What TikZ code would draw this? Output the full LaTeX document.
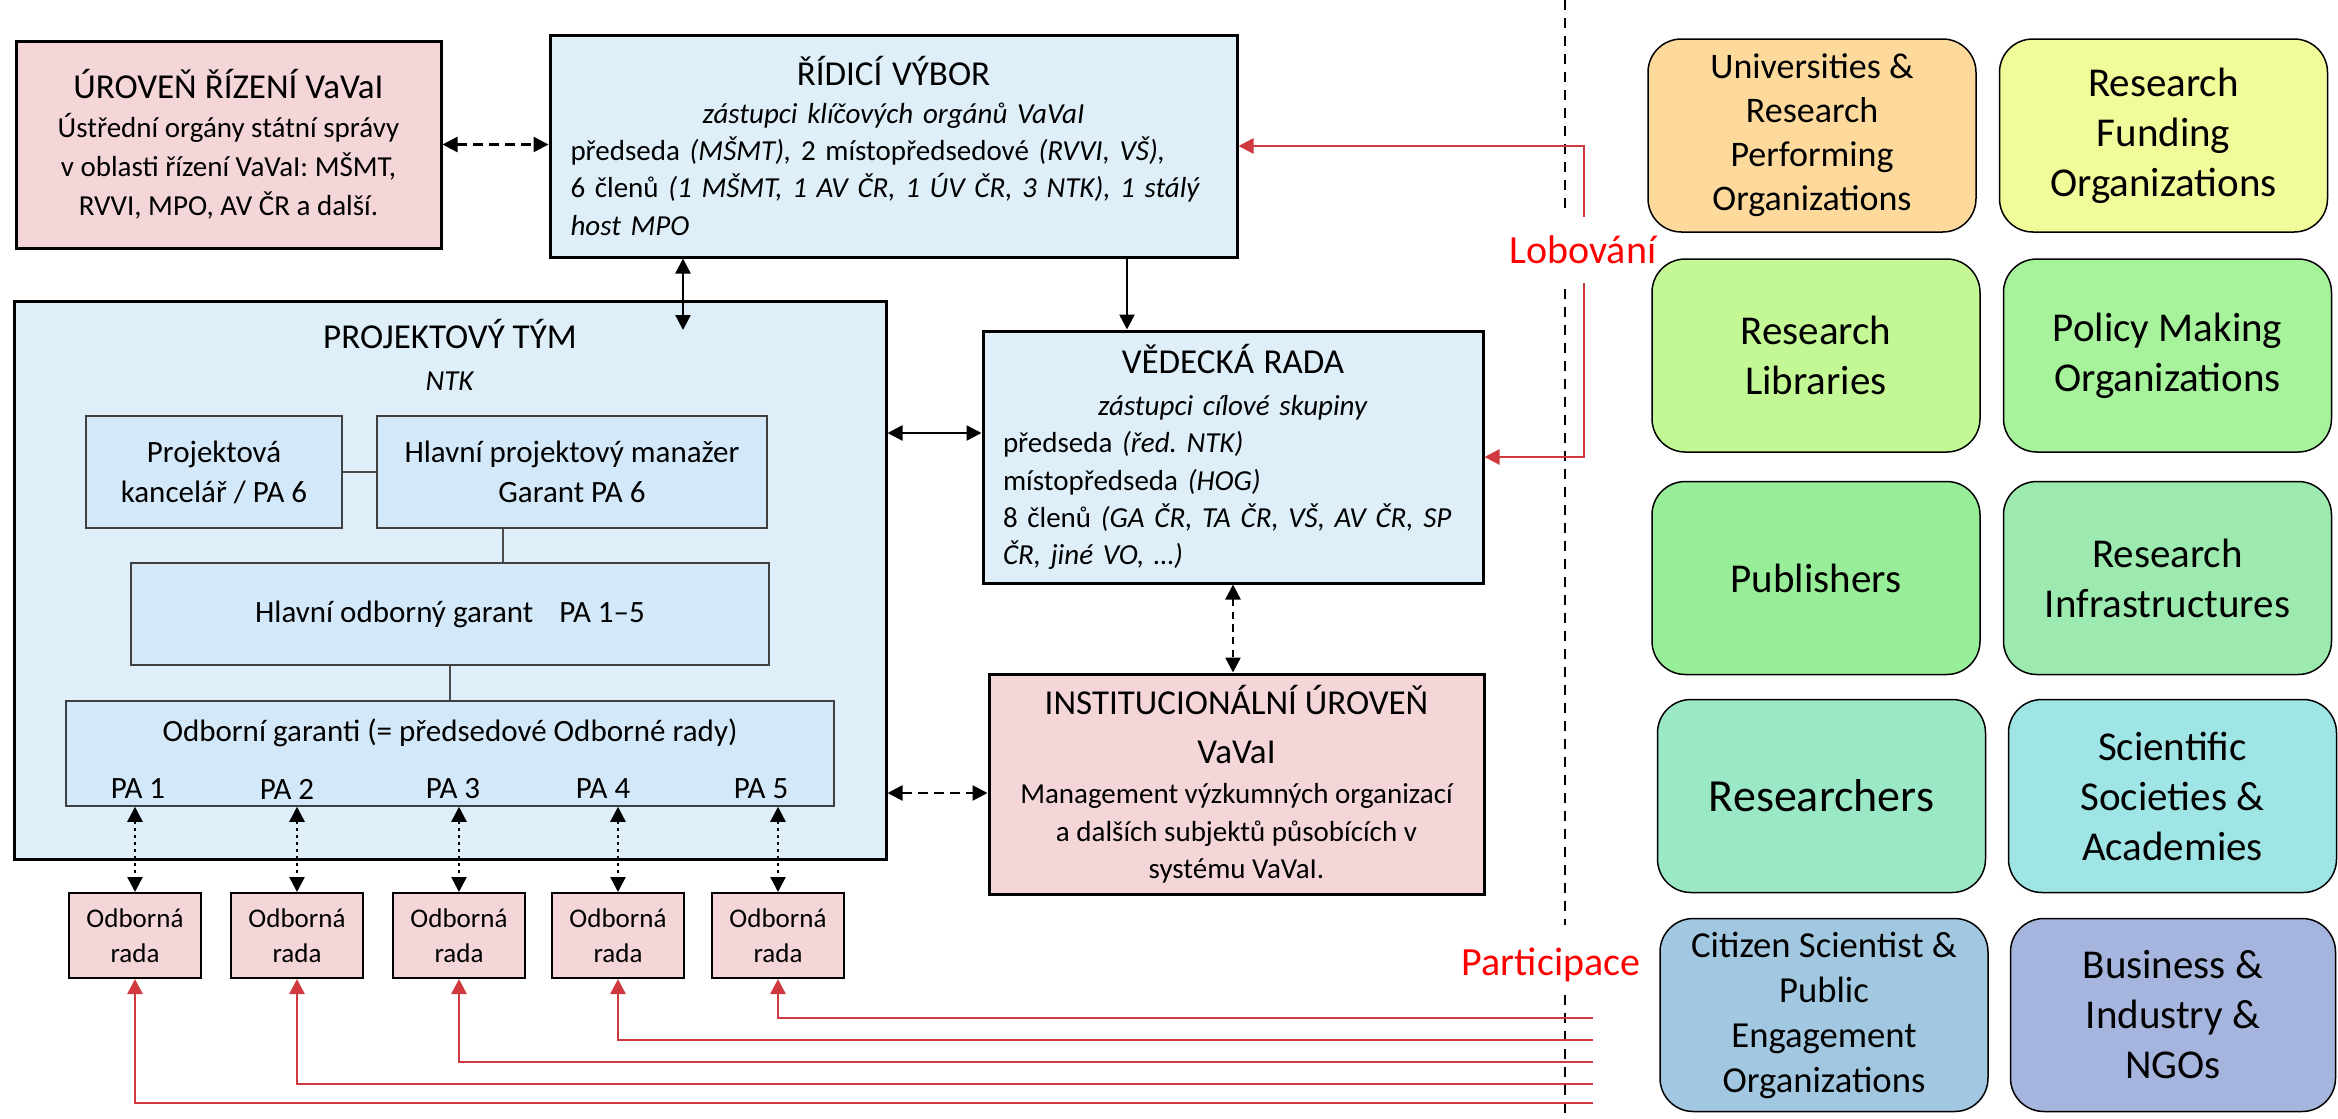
\documentclass[tikz,border=0pt]{standalone}
\usepackage{fontspec}
\setmainfont{Carlito}
\usetikzlibrary{arrows.meta,positioning}
\frenchspacing

\definecolor{pinkbox}{HTML}{F4D6D8}
\definecolor{bluebox}{HTML}{DEEFFA}
\definecolor{innerbox}{HTML}{D3E8F8}
\definecolor{lobred}{HTML}{D03A3E}
\definecolor{sUR}{HTML}{FDDA9C}
\definecolor{sRF}{HTML}{F1FB99}
\definecolor{sRL}{HTML}{C4F895}
\definecolor{sPM}{HTML}{A6F39B}
\definecolor{sPB}{HTML}{98EE98}
\definecolor{sRI}{HTML}{9CEAAF}
\definecolor{sRS}{HTML}{9BE8C7}
\definecolor{sSS}{HTML}{A0E5E5}
\definecolor{sCS}{HTML}{A2C8E1}
\definecolor{sBI}{HTML}{A6B5DE}

\newcommand{\fsz}[2]{\fontsize{#1}{#2}\selectfont}
\newcommand{\ttl}[1]{{\fsz{10.5}{11.2}#1}}
\newcommand{\cl}[1]{\makebox[\linewidth]{#1}}

\begin{document}
\begin{tikzpicture}[x=0.3pt,y=-0.3pt,>={Triangle[length=4.5pt,width=4.5pt]}]
            \useasboundingbox (0,0) rectangle (2338,1119);

            \tikzstyle{box}=[rectangle,draw,inner sep=0pt,align=center]
            \tikzstyle{P}=[box,line width=0.9pt,fill=pinkbox]     % level
            \tikzstyle{B}=[box,line width=0.9pt,fill=bluebox]     % body
            \tikzstyle{I}=[box,line width=0.45pt,draw=black!75,fill=innerbox,font=\fsz{9.3}{12}]  % team part
            \tikzstyle{R}=[box,line width=0.6pt,fill=pinkbox,font=\fsz{8.1}{10.5},minimum width=39.6pt,minimum height=25.5pt]  % odborna rada
            \tikzstyle{S}=[box,rounded corners=10pt,line width=0.45pt,minimum width=98.4pt,minimum height=57.9pt,font=\fsz{12.3}{15}]  % stakeholders
            \tikzstyle{lbl}=[font=\fsz{12}{14},text=red]

            \tikzstyle{every edge}=[draw]
            \tikzstyle{A}=[line width=0.75pt]                      % link
            \tikzstyle{D}=[A,dash pattern=on 3pt off 1.8pt]        % dashed link
            \tikzstyle{D2}=[A,dash pattern=on 2.2pt off 1.6pt]
            \tikzstyle{T}=[A,dash pattern=on 0.9pt off 1.2pt]      % dotted link
            \tikzstyle{E}=[line width=0.8pt,draw=lobred]           % red link
            \tikzstyle{L}=[line width=0.4pt,draw=black!70]         % thin line
            \tikzstyle{div}=[line width=0.6pt,dash pattern=on 3pt off 2.4pt]

            \node[P,minimum width=127.5pt,minimum height=62.1pt,font=\fsz{8.7}{11.7}] (UL) at (228.5,144.5)
                {\ttl{ÚROVEŇ ŘÍZENÍ VaVaI}\\ Ústřední orgány státní správy\\ v oblasti řízení VaVaI: MŠMT,\\ RVVI, MPO, AV ČR a další.};
            \node[B,minimum width=206.1pt,minimum height=66.6pt,text width=193.8pt,align=left,font=\fsz{8.7}{11.2}] (RV) at (893.5,146)
                {\cl{\ttl{ŘÍDICÍ VÝBOR}}\\ \cl{\textit{zástupci klíčových orgánů VaVaI}}\\
                 předseda \textit{(MŠMT),} 2 místopředsedové \textit{(RVVI, VŠ),}\\
                 \makebox[\linewidth][s]{6 členů \textit{(1 MŠMT, 1 AV ČR, 1 ÚV ČR, 3 NTK), 1 stálý}}\\
                 \textit{host MPO}};
            \node[B,minimum width=150pt,minimum height=75.6pt,text width=138pt,align=left,font=\fsz{8.7}{11.2}] (VR) at (1233,457)
                {\cl{\ttl{VĚDECKÁ RADA}}\\[1.5pt] \cl{\textit{zástupci cílové skupiny}}\\
                 předseda \textit{(řed. NTK)}\\ místopředseda \textit{(HOG)}\\
                 8 členů \textit{(GA ČR, TA ČR, VŠ, AV ČR, SP}\\ \textit{ČR, jiné VO, …)}};
            \node[P,minimum width=148.5pt,minimum height=66pt,font=\fsz{8.7}{11.2}] (IU) at (1236.5,784)
                {\ttl{INSTITUCIONÁLNÍ ÚROVEŇ}\\[3.5pt] \ttl{VaVaI}\\[1pt] Management výzkumných organizací\\ a dalších subjektů působících v\\ systému VaVaI.};

            \node[B,minimum width=261.6pt,minimum height=167.4pt] (PT) at (450,580) {};
            \node[align=center,font=\fsz{8.7}{11.2}] (PTt) at (450,355) {\ttl{PROJEKTOVÝ TÝM}\\[1.5pt] \textit{NTK}};
            \node[I,minimum width=76.8pt,minimum height=33.6pt] (PK) at (214,472) {Projektová\\kancelář / PA 6};
            \node[I,minimum width=117pt,minimum height=33.6pt] (HPM) at (572,472) {Hlavní projektový manažer\\Garant PA 6};
            \node[I,minimum width=191.4pt,minimum height=30.6pt] (HOG) at (450,614) {Hlavní odborný garant\hskip7.8pt PA 1–5};
            \node[I,minimum width=230.4pt,minimum height=31.5pt] (OG) at (450,753.5) {};
            \node[font=\fsz{9.3}{12}] (OGt) at (450,733) {Odborní garanti (= předsedové Odborné rady)};
            \foreach \i/\x in {1/138,2/287,3/453,4/603,5/761}
                \node[font=\fsz{9.3}{12}] (PA\i) at (\x,789) {PA \i};
            \foreach \i/\x in {1/135,2/297,3/459,4/618,5/778}
                \node[R] (OR\i) at (\x,935.5) {Odborná\\rada};

            \node[S,fill=sUR,font=\fsz{10.8}{13.2}] (UR) at (1812,135.5) {Universities \&\\Research\\Performing\\Organizations};
            \node[S,fill=sRF] (RF) at (2163.5,135.5) {Research\\Funding\\Organizations};
            \node[S,fill=sRL] (RL) at (1816,355.5) {Research\\Libraries};
            \node[S,fill=sPM] (PM) at (2167.5,355.5) {Policy Making\\Organizations};
            \node[S,fill=sPB] (PB) at (1816,578) {Publishers};
            \node[S,fill=sRI] (RI) at (2167.5,578) {Research\\Infrastructures};
            \node[S,fill=sRS,font=\fsz{13.8}{16}] (RS) at (1821.5,796) {Researchers};
            \node[S,fill=sSS] (SS) at (2172.5,796) {Scientific\\Societies \&\\Academies};
            \node[S,fill=sCS,font=\fsz{11}{13.5}] (CS) at (1824,1015) {Citizen Scientist \&\\Public\\Engagement\\Organizations};
            \node[S,fill=sBI,minimum width=97.5pt] (BI) at (2173,1015) {Business \&\\Industry \&\\NGOs};

            \node[lbl] (lob) at (1583,250) {Lobování};
            \node[lbl] (par) at (1551,965) {Participace};

            % divider
            \coordinate (d0) at (1565,0);   \coordinate (d1) at (1565,212);
            \coordinate (d2) at (1565,289); \coordinate (d3) at (1565,925);
            \coordinate (d4) at (1565,995); \coordinate (d5) at (1565,1119);
            \draw[div] (d0) -- (d1) (d2) -- (d3) (d4) -- (d5);

            \coordinate (PTa) at (683,330);
            \coordinate (a1) at (1127,0);
            \coordinate (a2) at (0,433);
            \coordinate (a3) at (0,793);
            \coordinate (a4) at (503,0);

            \path[<->,D] (UL.east) edge (UL.east -| RV.west);
            \path[<->,A] (RV.south -| PTa) edge (PTa);
            \path[->,A] (RV.south -| a1) edge (VR.north -| a1);
            \path[<->,A] (PT.east |- a2) edge (VR.west |- a2);
            \path[<->,D2] (VR.south) edge (IU.north -| VR.south);
            \path[<->,D] (PT.east |- a3) edge (IU.west |- a3);

            \path[L] (PK) edge (HPM)
                     (HPM.south -| a4) edge (HOG.north -| a4)
                     (HOG) edge (OG);

            \foreach \i in {1,...,5}
                \path[<->,T] (OG.south -| OR\i.north) edge (OR\i.north);

            % participace
            \foreach \i/\y in {1/1103,2/1084,3/1062,4/1040,5/1018}{
                \coordinate (P\i) at (1593,\y);
                \draw[->,E] (P\i) -| (OR\i.south);
            }

            % lobovani
            \coordinate (L1) at (1584,217);
            \coordinate (L2) at (1584,283);
            \draw[->,E] (L1) |- (RV.east);
            \draw[->,E] (L2) |- (VR.east);
        \end{tikzpicture}
\end{document}
